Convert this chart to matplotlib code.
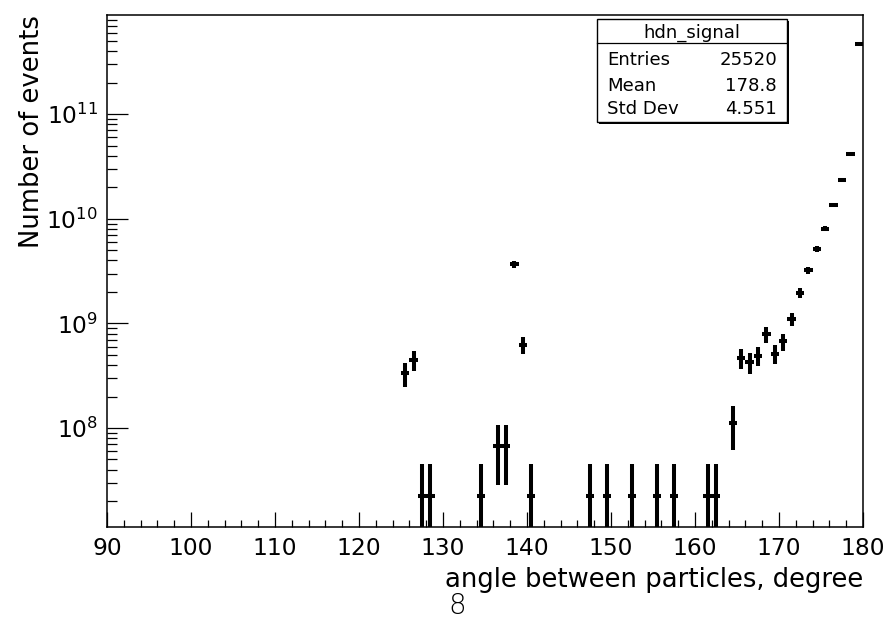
import numpy as np
import matplotlib
matplotlib.use("Agg")
import matplotlib.pyplot as plt
from matplotlib.ticker import LogLocator, MultipleLocator, NullFormatter, FixedLocator, FuncFormatter
from matplotlib.patches import Rectangle
from matplotlib.lines import Line2D

# ---------------- data ----------------
bin_centers = [125.5, 126.5, 127.5, 128.5, 134.5, 136.5, 137.5, 138.5, 139.5, 140.5,
               147.5, 149.5, 152.5, 155.5, 157.5, 161.5, 162.5, 164.5, 165.5, 166.5,
               167.5, 168.5, 169.5, 170.5, 171.5, 172.5, 173.5, 174.5, 175.5, 176.5,
               177.5, 178.5, 179.5]
bin_entries = [15, 20, 1, 1, 1, 3, 3, 165, 28, 1,
               1, 1, 1, 1, 1, 1, 1, 5, 21, 19,
               22, 35, 23, 30, 49, 88, 144, 231, 359, 599,
               1050, 1853, 20747]
event_weight = 2.24e7          # weight of a single entry (events)

stats_title = "hdn_signal"
stats_labels = ["Entries", "Mean", "Std Dev"]
stats_values = ["25520", "178.8", "4.551"]

x_ticks = [90, 100, 110, 120, 130, 140, 150, 160, 170, 180]
x_title = "angle between particles, degree"
y_title = "Number of events"
page_number = "8"

# ---------------- derived ----------------
x = np.array(bin_centers)
n = np.array(bin_entries, dtype=float)
values = n * event_weight
errors = np.sqrt(n) * event_weight
lower = np.minimum(errors, values * (1 - 1e-6))
upper = errors

W, H = 891, 621
plt.rcParams["font.family"] = ["DejaVu Sans"]
plt.rcParams["mathtext.fontset"] = "dejavusans"

fig = plt.figure(figsize=(W / 100, H / 100), dpi=100)
fig.patch.set_facecolor("white")
ax = fig.add_axes([107 / W, 1 - 527 / H, (863 - 107) / W, (527 - 14.5) / H])

ax.errorbar(x, values, xerr=0.5, yerr=[lower, upper], fmt="none",
            ecolor="black", elinewidth=2.9, capsize=0)

ax.set_yscale("log")
ax.set_xlim(90, 180)
ax.set_ylim(1.131e7, 8.99e11)

ax.xaxis.set_major_locator(FixedLocator(x_ticks))
ax.xaxis.set_minor_locator(MultipleLocator(2))
ax.yaxis.set_major_locator(LogLocator(base=10, numticks=20))
ax.yaxis.set_minor_locator(LogLocator(base=10, subs=np.arange(2, 10), numticks=50))
ax.yaxis.set_minor_formatter(NullFormatter())
ax.yaxis.set_major_formatter(FuncFormatter(lambda v, p: r"$10^{%d}$" % int(round(np.log10(v)))))

ax.tick_params(axis="both", which="both", direction="in", top=False, right=False,
               colors="black", width=0.9)
ax.tick_params(axis="x", which="major", length=10.8, labelsize=16.8, pad=7)
ax.tick_params(axis="x", which="minor", length=4.8)
ax.tick_params(axis="y", which="major", length=15, labelsize=16.8, pad=6.5)
ax.tick_params(axis="y", which="minor", length=7.5)
for s in ax.spines.values():
    s.set_linewidth(1.1)
    s.set_color("black")

# axis titles
fig.text(863 / W, 1 - 587 / H, x_title, ha="right", va="baseline", fontsize=18.6)
fig.text(32.5 / W, 1 - 15 / H, y_title, ha="center", va="top", rotation=90, fontsize=18.6)

# stats box
bx0, bx1 = 597 / W, 787 / W
by0, by1 = 1 - 122 / H, 1 - 19 / H
shadow = Rectangle((bx0 + 1.5 / W, by0 - 1.5 / H), bx1 - bx0, by1 - by0,
                   transform=fig.transFigure, facecolor="black", edgecolor="none", zorder=5)
box = Rectangle((bx0, by0), bx1 - bx0, by1 - by0, transform=fig.transFigure,
                facecolor="white", edgecolor="black", linewidth=1.0, zorder=6)
fig.add_artist(shadow)
fig.add_artist(box)
fig.add_artist(Line2D([bx0, bx1], [1 - 43.3 / H, 1 - 43.3 / H], transform=fig.transFigure,
                      color="black", linewidth=0.9, zorder=7))
fig.text(691.7 / W, 1 - 37.5 / H, stats_title, ha="center", va="baseline", fontsize=13.1, zorder=8)
row_baselines = [65, 91, 114]
for lab, val, yb in zip(stats_labels, stats_values, row_baselines):
    fig.text(607 / W, 1 - yb / H, lab, ha="left", va="baseline", fontsize=13.1, zorder=8)
    fig.text(777 / W, 1 - yb / H, val, ha="right", va="baseline", fontsize=13.1, zorder=8)

# page number
fig.text(457 / W, 1 / H, page_number, ha="center", va="bottom", fontsize=20,
         fontweight="ultralight")

fig.savefig("out.png", dpi=100, facecolor="white")
